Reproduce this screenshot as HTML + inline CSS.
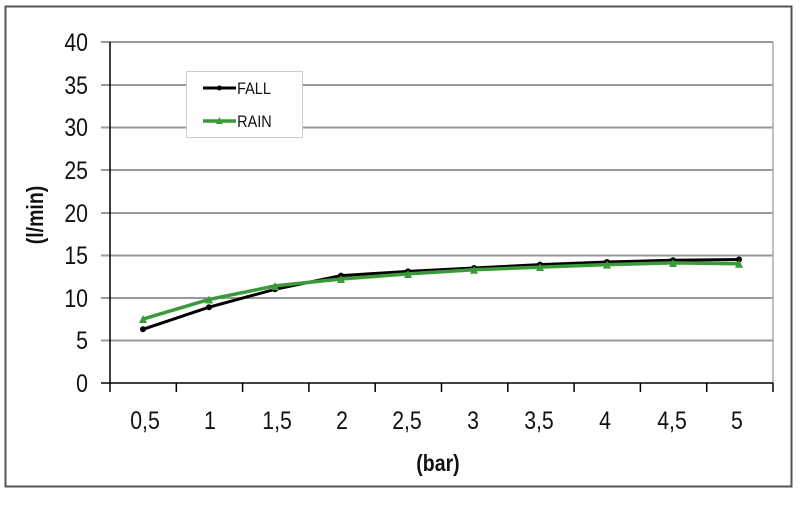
<!DOCTYPE html>
<html><head><meta charset="utf-8"><style>
html,body{margin:0;padding:0;background:#fff;}
</style></head><body>
<svg width="800" height="503" xmlns="http://www.w3.org/2000/svg" font-family="Liberation Sans, Arial, sans-serif">
<rect x="0" y="0" width="800" height="503" fill="#fff"/>
<path d="M5.5 6.5 H791.5 V486.5 H5.5 Z" fill="none" stroke="#555" stroke-width="2"/>
<g stroke="#999" stroke-width="2">
<line x1="101" y1="42" x2="773" y2="42"/>
<line x1="101" y1="85" x2="773" y2="85"/>
<line x1="101" y1="127.5" x2="773" y2="127.5"/>
<line x1="101" y1="170" x2="773" y2="170"/>
<line x1="101" y1="213" x2="773" y2="213"/>
<line x1="101" y1="255.5" x2="773" y2="255.5"/>
<line x1="101" y1="298" x2="773" y2="298"/>
<line x1="101" y1="340.5" x2="773" y2="340.5"/>
</g>
<line x1="773" y1="42" x2="773" y2="383" stroke="#aaa" stroke-width="1.5"/>
<line x1="110" y1="42" x2="110" y2="392" stroke="#000" stroke-width="1.5"/>
<line x1="101" y1="383" x2="773" y2="383" stroke="#000" stroke-width="1.5"/>
<g stroke="#000" stroke-width="1.5">
<line x1="176.3" y1="383" x2="176.3" y2="392"/><line x1="242.6" y1="383" x2="242.6" y2="392"/>
<line x1="308.9" y1="383" x2="308.9" y2="392"/><line x1="375.2" y1="383" x2="375.2" y2="392"/>
<line x1="441.5" y1="383" x2="441.5" y2="392"/><line x1="507.8" y1="383" x2="507.8" y2="392"/>
<line x1="574.1" y1="383" x2="574.1" y2="392"/><line x1="640.4" y1="383" x2="640.4" y2="392"/>
<line x1="706.7" y1="383" x2="706.7" y2="392"/><line x1="773" y1="383" x2="773" y2="392"/>
</g>
<g transform="scale(0.85,1)" font-size="25" fill="#111">
<g text-anchor="end">
<text x="103.5" y="51">40</text><text x="103.5" y="94">35</text><text x="103.5" y="136">30</text>
<text x="103.5" y="179">25</text><text x="103.5" y="222">20</text><text x="103.5" y="264">15</text>
<text x="103.5" y="307">10</text><text x="103.5" y="349">5</text><text x="103.5" y="392">0</text>
</g>
<g text-anchor="middle">
<text x="170.6" y="429">0,5</text><text x="247" y="429">1</text><text x="325.9" y="429">1,5</text>
<text x="402.4" y="429">2</text><text x="478.8" y="429">2,5</text><text x="556.5" y="429">3</text>
<text x="634.1" y="429">3,5</text><text x="711.8" y="429">4</text><text x="790.6" y="429">4,5</text>
<text x="867" y="429">5</text>
</g>
<text x="515.3" y="471" font-size="23" font-weight="bold" text-anchor="middle">(bar)</text>
<text x="279" y="94" font-size="17">FALL</text>
<text x="279" y="127" font-size="17">RAIN</text>
</g>
<text transform="translate(43,215) rotate(-90) scale(0.85,1)" font-size="23" font-weight="bold" text-anchor="middle" fill="#111">(l/min)</text>
<polyline fill="none" stroke="#000" stroke-width="3" points="143,329.3 209,307.2 275,289.3 341,275.6 408,271.4 474,268 540,264.6 607,262 673,260.3 739,259.5"/>
<g fill="#000">
<circle cx="143" cy="329.3" r="3"/><circle cx="209" cy="307.2" r="3"/><circle cx="275" cy="289.3" r="3"/><circle cx="341" cy="275.6" r="3"/><circle cx="408" cy="271.4" r="3"/><circle cx="474" cy="268" r="3"/><circle cx="540" cy="264.6" r="3"/><circle cx="607" cy="262" r="3"/><circle cx="673" cy="260.3" r="3"/><circle cx="739" cy="259.5" r="3"/>
</g>
<polyline fill="none" stroke="#3a9a3a" stroke-width="3.5" points="143,319.1 209,299.5 275,285.9 341,279 408,273.9 474,269.7 540,267.1 607,264.6 673,262.9 739,263.7"/>
<g fill="#3a9a3a">
<path d="M139,323 L147,323 L143,315 Z"/><path d="M205,303.5 L213,303.5 L209,295.5 Z"/><path d="M271,290 L279,290 L275,282 Z"/><path d="M337,283 L345,283 L341,275 Z"/><path d="M404,278 L412,278 L408,270 Z"/><path d="M470,273.7 L478,273.7 L474,265.7 Z"/><path d="M536,271 L544,271 L540,263 Z"/><path d="M603,268.6 L611,268.6 L607,260.6 Z"/><path d="M669,267 L677,267 L673,259 Z"/><path d="M735,267.7 L743,267.7 L739,259.7 Z"/>
</g>
<rect x="186.5" y="71.5" width="116" height="66" fill="none" stroke="#ccc" stroke-width="1"/>
<rect x="187" y="72" width="115" height="65" fill="#fff" opacity="1"/>
<line x1="203" y1="88" x2="236" y2="88" stroke="#000" stroke-width="3"/>
<circle cx="219.5" cy="88" r="2.5" fill="#000"/>
<line x1="203" y1="121" x2="236" y2="121" stroke="#3a9a3a" stroke-width="3.5"/>
<path d="M216,124 L223,124 L219.5,117 Z" fill="#3a9a3a"/>
<g transform="scale(0.85,1)" fill="#111" font-size="17">
<text x="279" y="94">FALL</text>
<text x="279" y="127">RAIN</text>
</g>
<rect x="186.5" y="71.5" width="116" height="66" fill="none" stroke="#ccc" stroke-width="1"/>
</svg>
</body></html>
